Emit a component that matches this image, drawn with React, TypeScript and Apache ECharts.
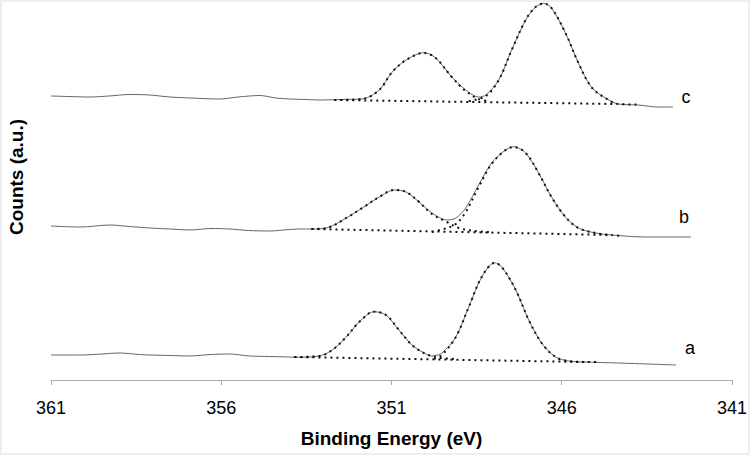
import React, { useEffect, useRef } from "react";
import * as echarts from "echarts";

// Binding energy axis ticks (eV), axis runs 361 -> 341
const xTicks = [361, 356, 351, 346, 341];

// Spectrum c (top) – measured envelope [eV, counts a.u.]
const cMeasured: number[][] = [
  [361.0, 284], [360.5, 283.5], [359.85, 283], [359.3, 284], [358.68, 285.5], [358.1, 285],
  [357.51, 283], [356.9, 282], [356.05, 281], [355.5, 283], [354.87, 284.5], [354.4, 282],
  [354.0, 281], [353.5, 280.5], [353.12, 280], [352.5, 280.5], [351.86, 281], [351.36, 290],
  [350.98, 308], [350.57, 320], [350.05, 327.3], [349.7, 322], [349.23, 303], [348.82, 290],
  [348.44, 283], [348.23, 285], [347.85, 300], [347.47, 330], [347.06, 360], [346.77, 373],
  [346.53, 376.7], [346.3, 372], [345.89, 347], [345.51, 317], [345.13, 293], [344.72, 282],
  [344.34, 276], [343.75, 275], [343.17, 273], [342.73, 273],
];
const cBackground: number[][] = [[352.68, 280], [344.45, 276]];
const cFit1: number[][] = [
  [352.68, 280], [351.86, 281], [351.36, 290], [350.98, 308], [350.57, 320], [350.05, 327],
  [349.7, 322], [349.23, 303], [348.82, 289], [348.44, 281], [348.14, 279],
];
const cFit2: number[][] = [
  [348.73, 279], [348.23, 284], [347.85, 300], [347.47, 330], [347.06, 360], [346.77, 373],
  [346.53, 376.5], [346.3, 372], [345.89, 347], [345.51, 317], [345.13, 293], [344.72, 282],
  [344.34, 276], [343.75, 275.5],
];

// Spectrum b (middle)
const bMeasured: number[][] = [
  [361.0, 154], [360.14, 153], [359.26, 155], [358.7, 153.5], [358.09, 152], [357.5, 151],
  [356.92, 150], [356.3, 151.5], [355.75, 151], [355.2, 149.5], [354.58, 149], [354.0, 150.5],
  [353.7, 151], [353.35, 151], [352.91, 152], [352.33, 162], [351.86, 172], [351.36, 183],
  [350.92, 190], [350.57, 188], [350.19, 178], [349.81, 167], [349.37, 160], [349.11, 162],
  [348.82, 172], [348.44, 195], [348.06, 217], [347.65, 230], [347.41, 233.3], [347.06, 227],
  [346.68, 207], [346.3, 183], [345.89, 163], [345.51, 152], [345.01, 147], [344.54, 145],
  [343.55, 143], [342.2, 143],
];
const bBackground: number[][] = [[353.35, 151], [344.54, 145]];
const bFit1: number[][] = [
  [353.35, 151], [352.91, 152], [352.33, 162], [351.86, 172], [351.36, 183], [350.92, 190],
  [350.57, 188], [350.19, 178], [349.81, 166], [349.37, 158], [349.02, 152], [348.58, 149],
  [348.14, 148],
];
const bFit2: number[][] = [
  [349.81, 148], [349.46, 151], [349.11, 156], [348.82, 168], [348.44, 193], [348.06, 216],
  [347.65, 230], [347.41, 233], [347.06, 227], [346.68, 207], [346.3, 183], [345.89, 163],
  [345.51, 152], [345.01, 147], [344.54, 145], [344.19, 144],
];

// Spectrum a (bottom)
const aMeasured: number[][] = [
  [361.0, 25], [360.14, 25], [359.5, 26], [359.0, 27], [358.4, 25.5], [358.09, 25],
  [357.5, 24.5], [356.92, 24], [356.3, 25.5], [355.75, 26], [355.17, 24], [354.58, 23.5],
  [354.0, 23], [353.85, 22.7], [353.12, 24], [352.74, 30], [352.33, 43], [351.95, 58],
  [351.51, 68.3], [351.16, 65], [350.78, 50], [350.4, 35], [349.99, 26], [349.81, 24],
  [349.52, 27], [349.11, 43], [348.73, 73], [348.35, 103], [347.97, 117.3], [347.76, 113],
  [347.35, 90], [346.97, 60], [346.59, 37], [346.18, 23], [345.8, 19], [345.31, 18],
  [344.34, 17], [342.64, 15],
];
const aBackground: number[][] = [[353.85, 23], [345.31, 18]];
const aFit1: number[][] = [
  [353.85, 23], [353.12, 24], [352.74, 30], [352.33, 43], [351.95, 58], [351.51, 68.3],
  [351.16, 65], [350.78, 50], [350.4, 35], [349.99, 26], [349.61, 22.5], [349.17, 21],
];
const aFit2: number[][] = [
  [349.75, 21], [349.52, 25], [349.11, 43], [348.73, 73], [348.35, 103], [347.97, 117],
  [347.76, 113], [347.35, 90], [346.97, 60], [346.59, 37], [346.18, 23], [345.8, 19],
  [345.31, 18], [344.92, 18],
];

const sampleLabels = ["a", "b", "c"];

const FONT = "'Liberation Sans', Arial, Helvetica, sans-serif";

export default function App() {
  const ref = useRef<HTMLDivElement>(null);

  useEffect(() => {
    if (!ref.current) return;
    const chart = echarts.init(ref.current, null, { renderer: "svg" });

    const solid = (data: number[][]) => ({
      type: "line",
      data,
      showSymbol: false,
      smooth: 0.3,
      lineStyle: { color: "#666666", width: 1 },
      z: 2,
    });
    const dotted = (data: number[][], smooth: number) => ({
      type: "line",
      data,
      showSymbol: false,
      smooth,
      lineStyle: { color: "#111111", width: 2, type: [2, 4] },
      z: 3,
    });

    chart.setOption({
      animation: false,
      backgroundColor: "#ffffff",
      grid: { left: 51, right: 16, top: 0, bottom: 75 },
      xAxis: {
        type: "value",
        min: 341,
        max: 361,
        interval: 5,
        inverse: true,
        name: "Binding Energy (eV)",
        nameLocation: "middle",
        nameGap: 49,
        nameTextStyle: { fontFamily: FONT, fontSize: 19, fontWeight: "bold", color: "#000" },
        axisLine: { show: true, lineStyle: { color: "#aaaaaa", width: 1 } },
        axisTick: { show: true, inside: false, length: 5, lineStyle: { color: "#aaaaaa" } },
        axisLabel: {
          fontFamily: FONT,
          fontSize: 18,
          color: "#000",
          margin: 19,
          formatter: (v: number) => (xTicks.includes(v) ? String(v) : ""),
        },
        splitLine: { show: false },
      },
      yAxis: { type: "value", min: 0, max: 380, show: false },
      series: [
        solid(cMeasured), dotted(cBackground, 0), dotted(cFit1, 0.35), dotted(cFit2, 0.35),
        solid(bMeasured), dotted(bBackground, 0), dotted(bFit1, 0.35), dotted(bFit2, 0.35),
        solid(aMeasured), dotted(aBackground, 0), dotted(aFit1, 0.35), dotted(aFit2, 0.35),
      ],
      graphic: [
        {
          type: "rect",
          shape: { x: 0, y: 0, width: 750, height: 455 },
          style: { fill: "none", stroke: "#eeeeee", lineWidth: 4 },
          silent: true,
        },
        {
          type: "text",
          x: 16,
          y: 177,
          rotation: Math.PI / 2,
          style: {
            text: "Counts (a.u.)",
            font: `bold 19px ${FONT}`,
            fill: "#000",
            textAlign: "center",
            textVerticalAlign: "middle",
          },
        },
        {
          type: "text", x: 690, y: 348,
          style: { text: sampleLabels[0], font: `18px ${FONT}`, fill: "#000", textAlign: "center", textVerticalAlign: "middle" },
        },
        {
          type: "text", x: 684, y: 217,
          style: { text: sampleLabels[1], font: `18px ${FONT}`, fill: "#000", textAlign: "center", textVerticalAlign: "middle" },
        },
        {
          type: "text", x: 686, y: 97,
          style: { text: sampleLabels[2], font: `18px ${FONT}`, fill: "#000", textAlign: "center", textVerticalAlign: "middle" },
        },
      ],
    });

    return () => chart.dispose();
  }, []);

  return (
    <div
      ref={ref}
      style={{ position: "fixed", left: 0, top: 0, width: 750, height: 455, background: "#fff" }}
    />
  );
}
